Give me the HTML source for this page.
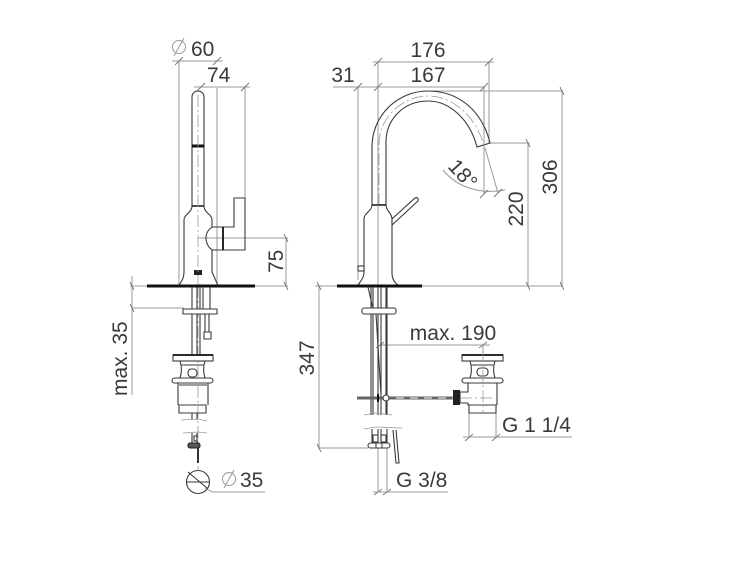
<!DOCTYPE html>
<html><head><meta charset="utf-8"><style>
html,body{margin:0;padding:0;background:#fff}
svg{display:block}
text{font-family:"Liberation Sans",sans-serif;font-size:21px;fill:#3a3a3a}
.d{stroke:#9a9a9a;stroke-width:1;fill:none}
.t{stroke:#777;stroke-width:.9;fill:none}
.o{stroke:#3a3a3a;stroke-width:1.1;fill:none}
.w{stroke:#3a3a3a;stroke-width:1.1;fill:#fff}
.c{stroke:#999;stroke-width:.8;fill:none;stroke-dasharray:12 3 2 3}
.k{stroke:#111;fill:none}
</style></head><body>
<svg width="750" height="563" viewBox="0 0 750 563" xmlns="http://www.w3.org/2000/svg">
<!-- LEFT VIEW dimensions -->
<g class="d">
<path d="M172 61H223M179 61V285M217 88V285"/>
<path d="M194 87H250M245 87V198"/>
<path d="M130 286H147M255 286H288M198 238H288M286 238V286"/>
<path d="M132 276V395M132 308H184"/>
<path d="M205 488L212 492H265"/>
</g>
<g class="t">
<path d="M175 65L183 57M213 65L221 57M197 91L205 83M241 91L249 83"/>
<path d="M284 234L288 242M284 282L288 290M130 282L134 290M130 304L134 312"/>
</g>
<circle cx="179" cy="47" r="6.5" class="d"/><path d="M174 56L184 38" class="d"/>
<text x="191" y="56">60</text>
<text x="207" y="82">74</text>
<text transform="translate(283,273) rotate(-90)">75</text>
<text transform="translate(127,396) rotate(-90)">max. 35</text>
<circle cx="229" cy="479" r="6.5" class="d"/><path d="M224 488L234 470" class="d"/>
<text x="240" y="487">35</text>
<!-- LEFT VIEW faucet -->
<path class="o" d="M192 206V97C192 93 195 91 198 91C201 91 204 93 204 97V206"/>
<path class="o" d="M192 206C192 213 184 214 184 220V272C184 279 181 282 179 285M204 206C204 213 212 214 212 220V227M212 250V272C215 278 216 282 218 285"/>
<path d="M192 206H204" stroke="#222" stroke-width="1.6"/>
<path d="M192 146H204" stroke="#111" stroke-width="3"/>
<path class="o" d="M213 227H223V250H213C209 249 206 243 206 238C206 233 209 228 213 227Z"/>
<path class="o" d="M223 227H234V198H245V250H223"/>
<path d="M223 227V250" stroke="#111" stroke-width="1.8"/>
<rect x="194" y="270" width="8" height="5" fill="#222"/>
<path class="c" d="M198 95V285M198 286V470"/>
<path d="M147 286H255" stroke="#111" stroke-width="3"/>
<!-- left below deck -->
<path class="o" d="M192 287V355M200 287V355M197 287V355M203 287V309M210 287V309"/>
<path class="w" d="M183 309H217V314H183Z"/>
<path class="o" d="M205 314V332M209 314V332"/>
<path class="w" d="M204 332H211V339H204Z"/>
<rect x="173" y="355" width="40" height="6" class="w"/>
<path d="M173 355H213" stroke="#111" stroke-width="1.8"/>
<path class="o" d="M180 361C182 367 182 372 180 378M205 361C203 367 203 372 205 378M181 365H204"/>
<rect x="188" y="369" width="9" height="8" rx="3.5" class="o"/>
<rect x="172" y="378" width="41" height="5" rx="2.5" class="w"/>
<path class="o" d="M178 383V405M208 383V405M179 405H206V413H179ZM179 385H207"/>
<path class="o" d="M192 413V420M197 413V420"/>
<path class="c" d="M181 420L198 419L207 421M183 433L198 432L207 433" style="stroke-dasharray:none"/>
<path class="o" d="M192 433V443M197 433V443"/>
<rect x="194" y="436" width="3" height="5" class="o"/>
<rect x="188" y="443" width="12" height="5" rx="2" fill="#555" stroke="#222"/>
<path d="M198 448V463" stroke="#333" stroke-width="2"/>
<circle cx="198" cy="482" r="11.5" class="o"/>
<path class="o" d="M188 472L207 488M187 482H209" />
<!-- RIGHT VIEW dimensions -->
<g class="d">
<path d="M373 62H494M378 62V285M489 62V143"/>
<path d="M333 87H485M358 87V280M484 87V194"/>
<path d="M430 91H563M562 91V286M490 143H530M528 143V286"/>
<path d="M422 286H563"/>
<path d="M485 148L498 193"/>
<path d="M443 170C456 186 478 195 505 190"/>
<path d="M315 286H337M319 286V448H368"/>
<path d="M380 345H490M483 345V355"/>
<path d="M469 413V437M496 413V437M463 437H572"/>
<path d="M378 448V491M387 448V491M373 492H448"/>
</g>
<g class="t">
<path d="M374 66L382 58M485 66L493 58M354 91L362 83M374 91L382 83M480 91L488 83"/>
<path d="M560 87L564 95M560 282L564 290M526 139L530 147M526 282L530 290"/>
<path d="M317 282L321 290M317 444L321 452M376 348L384 342M479 348L487 342"/>
<path d="M465 441L473 434M492 441L500 434M374 495L382 489M383 495L391 489"/>
<path d="M480 198L488 190M494 197L502 189"/>
</g>
<text x="428" y="57" text-anchor="middle">176</text>
<text x="428" y="82" text-anchor="middle">167</text>
<text x="343" y="82" text-anchor="middle">31</text>
<text transform="translate(557,177) rotate(-90)" text-anchor="middle">306</text>
<text transform="translate(523,209) rotate(-90)" text-anchor="middle">220</text>
<text transform="translate(314,358) rotate(-90)" text-anchor="middle">347</text>
<text transform="translate(447,167) rotate(48)">18°</text>
<text x="453" y="340" text-anchor="middle">max. 190</text>
<text x="502" y="432">G 1 1/4</text>
<text x="396" y="487">G 3/8</text>
<!-- RIGHT VIEW faucet -->
<path class="o" d="M372 205V147C372 115 398 91 428 91C458 91 482 110 490 143L477 147C470 120 450 101 428 101C403 101 386 120 386 142V205"/>
<path class="c" d="M379 205V144C379 118 402 96 428 96C452 96 475 115 484 145"/>
<path class="o" d="M372 205C372 211 364 213 364 219V273C364 278 360 282 358 285M386 205C386 211 392 213 392 219V273C392 279 395 283 398 285"/>
<path d="M372 205H386" stroke="#222" stroke-width="1.6"/>
<path class="w" d="M392 219L415 198C417 197 419 198 418 201L392 225Z"/>
<rect x="358" y="266" width="6" height="5" class="o"/>
<path d="M337 286H422" stroke="#111" stroke-width="3"/>
<path class="c" d="M378 205V285"/>
<!-- right below deck -->
<path class="o" d="M371 287V415M373 287V415M378 287V415M381 287V415M386 287V415M387 287V415"/>
<path class="o" d="M368 287L373 309M376 314L381 395"/>
<rect x="362" y="308" width="34" height="6" rx="2" class="w"/>
<path d="M357 398H453" stroke="#666" stroke-width="3"/>
<path d="M396 398H453" stroke="#fff" stroke-width="1" stroke-dasharray="8 6"/>
<circle cx="386" cy="398" r="3" class="w"/>
<path d="M378 394V402" stroke="#111" stroke-width="2"/>
<path class="c" style="stroke-dasharray:none" d="M364 415L376 413L392 415M364 429L376 427L402 428"/>
<path class="o" d="M372 429V443M378 429V443M381 429V443M387 429V443"/>
<rect x="373" y="435" width="5" height="7" class="o"/><rect x="381" y="435" width="5" height="7" class="o"/>
<rect x="368" y="443" width="22" height="5" rx="2.5" class="w" stroke-width="1.6"/>
<path d="M376 443V448M382 443V448" stroke="#333"/>
<path class="o" d="M393 430L396 463H399L396 430"/>
<!-- right drain -->
<rect x="462" y="355" width="41" height="6" class="w"/>
<path d="M462 355H503" stroke="#111" stroke-width="1.8"/>
<path class="o" d="M470 361C472 367 472 372 470 378M495 361C493 367 493 372 495 378M471 365H494"/>
<rect x="477" y="368" width="11" height="8" rx="3.5" class="o"/>
<rect x="462" y="378" width="41" height="5" rx="2.5" class="w"/>
<path class="o" d="M497 383V405M468 383V392H460V403H468V405H497M469 405H496V413H469V405"/>
<rect x="453" y="390" width="7" height="15" fill="#222"/>
<path class="c" d="M483 350V412M460 398H495"/>
</svg>
</body></html>
